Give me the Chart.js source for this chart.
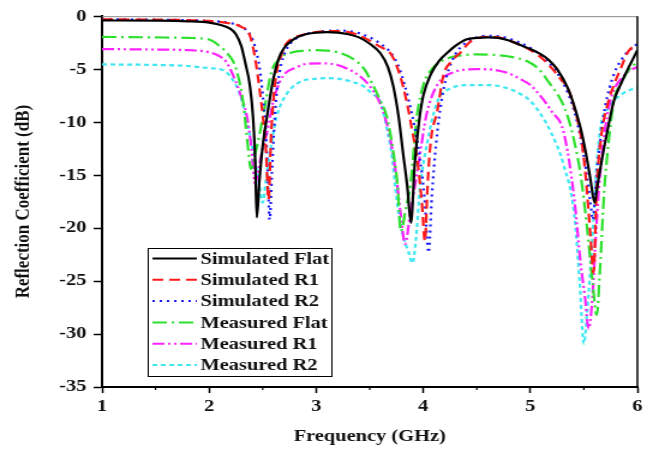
<!DOCTYPE html>
<html>
<head>
<meta charset="utf-8">
<script src="https://cdn.jsdelivr.net/npm/chart.js@4.4.1/dist/chart.umd.min.js"></script>
<style>
  html, body { margin: 0; padding: 0; background: #fff; }
  #wrap { width: 653px; height: 452px; }
</style>
</head>
<body>
<div id="wrap">
  <canvas id="reflChart" width="544" height="452" style="width:653px;height:452px"></canvas>
</div>
<script>
// Frequency (GHz) / S11 (dB) pairs for each antenna case
const fSimFlat = [1.0,1.5,1.8,2.0,2.1,2.2,2.25,2.3,2.34,2.38,2.41,2.43,2.445,2.47,2.5,2.54,2.6,2.65,2.7,2.8,2.9,3.0,3.1,3.2,3.3,3.4,3.5,3.6,3.67,3.72,3.77,3.81,3.85,3.885,3.92,3.96,4.0,4.07,4.15,4.23,4.3,4.4,4.5,4.6,4.7,4.8,4.9,5.0,5.1,5.17,5.25,5.35,5.42,5.47,5.52,5.56,5.6,5.63,5.66,5.72,5.78,5.85,5.91,5.96,6.0];
const sSimFlat = [-0.4,-0.42,-0.48,-0.6,-0.8,-1.2,-1.7,-2.8,-4.5,-6.5,-9.5,-13.5,-19.0,-15.5,-12.3,-9.5,-5.9,-4.0,-3.0,-2.1,-1.7,-1.55,-1.5,-1.55,-1.7,-2.0,-2.6,-3.5,-4.8,-6.6,-9.5,-12.8,-16,-19.5,-14,-10,-7.5,-5.5,-4.2,-3.4,-2.8,-2.2,-2.05,-2.0,-2.05,-2.3,-2.7,-3.1,-3.6,-4.1,-5.0,-6.8,-8.8,-10.6,-13,-15.3,-17.6,-15.8,-14,-10.8,-8.0,-6.3,-5.0,-4.0,-3.2];

const fSimR1 = [1.0,1.5,2.0,2.2,2.3,2.38,2.43,2.47,2.5,2.53,2.555,2.58,2.62,2.67,2.72,2.8,2.9,3.0,3.1,3.2,3.3,3.4,3.5,3.6,3.7,3.78,3.85,3.9,3.95,3.99,4.015,4.04,4.07,4.13,4.19,4.26,4.35,4.44,4.6,4.7,4.8,4.9,5.0,5.1,5.2,5.28,5.35,5.42,5.48,5.52,5.56,5.59,5.62,5.66,5.73,5.78,5.85,5.91,6.0];
const sSimR1 = [-0.3,-0.33,-0.45,-0.7,-1.0,-1.8,-4.0,-6.8,-9.3,-12.5,-17.3,-11,-6,-3.8,-2.6,-2.0,-1.7,-1.5,-1.42,-1.4,-1.5,-1.8,-2.3,-2.9,-3.6,-5.5,-8.3,-11,-14,-18,-21.2,-16,-11.8,-9,-5.5,-4.3,-3.4,-2.4,-1.95,-2.0,-2.3,-2.7,-3.2,-3.9,-4.9,-5.9,-6.8,-9,-11.8,-15.5,-20.5,-24.2,-16.2,-11.5,-8,-6.5,-4.8,-3.4,-2.6];

const fSimR2 = [1.0,1.5,2.0,2.2,2.3,2.38,2.44,2.48,2.51,2.535,2.55,2.565,2.59,2.62,2.66,2.72,2.8,2.9,3.0,3.1,3.2,3.3,3.4,3.5,3.6,3.7,3.78,3.86,3.92,3.97,4.01,4.05,4.08,4.12,4.17,4.22,4.3,4.4,4.5,4.6,4.7,4.8,4.9,5.0,5.1,5.2,5.3,5.4,5.47,5.52,5.56,5.585,5.61,5.65,5.7,5.78,5.88,6.0];
const sSimR2 = [-0.3,-0.33,-0.45,-0.65,-1.0,-1.7,-3.3,-5.5,-8.5,-12,-15.5,-19.2,-14,-8.5,-5.2,-3.2,-2.2,-1.7,-1.5,-1.4,-1.35,-1.4,-1.6,-2.0,-2.6,-3.5,-5.0,-7.8,-10.5,-13.5,-17,-22.3,-17,-12,-8,-5.6,-3.6,-2.5,-2.0,-1.85,-1.9,-2.1,-2.5,-3.0,-3.7,-4.7,-6.2,-8.6,-11.5,-14.5,-17.5,-19.2,-16,-12,-8.5,-5.5,-3.7,-2.6];

const fMeasFlat = [1.0,1.5,1.8,2.0,2.07,2.16,2.24,2.29,2.32,2.36,2.39,2.43,2.47,2.53,2.58,2.66,2.78,2.9,3.0,3.1,3.2,3.34,3.45,3.53,3.6,3.66,3.72,3.76,3.79,3.84,3.88,3.94,4.0,4.08,4.16,4.25,4.35,4.5,4.66,4.8,4.98,5.08,5.17,5.29,5.35,5.41,5.47,5.53,5.58,5.62,5.65,5.69,5.73,5.78,5.85,5.91,6.0];
const sMeasFlat = [-1.95,-2.0,-2.05,-2.2,-2.6,-3.4,-4.6,-6.5,-8.3,-12.1,-14.4,-13,-11.2,-8,-5.3,-4.0,-3.4,-3.25,-3.2,-3.25,-3.4,-4.0,-5.0,-6.5,-8,-9.5,-12.8,-16,-20.3,-18,-15.9,-9.5,-6.5,-5.0,-4.3,-3.9,-3.7,-3.6,-3.65,-3.8,-4.3,-5.0,-6.2,-8,-9.5,-11.8,-15,-20,-25,-28.2,-24,-16.5,-12,-8,-6.3,-5.2,-4.3];

const fMeasR1 = [1.0,1.5,1.8,2.0,2.1,2.16,2.25,2.3,2.35,2.39,2.43,2.46,2.5,2.54,2.6,2.66,2.72,2.8,2.91,3.05,3.2,3.3,3.4,3.5,3.6,3.68,3.74,3.79,3.83,3.88,3.95,4.03,4.13,4.28,4.5,4.65,4.8,4.9,5.0,5.1,5.2,5.31,5.41,5.47,5.51,5.545,5.58,5.61,5.65,5.7,5.76,5.84,5.92,6.0];
const sMeasR1 = [-3.1,-3.15,-3.2,-3.4,-3.8,-4.3,-6.2,-7.6,-9.3,-12,-15.8,-14.5,-12.5,-11,-8,-6.2,-5.3,-4.9,-4.5,-4.45,-4.6,-5.0,-5.6,-6.6,-8.3,-11,-14.5,-18.7,-21.5,-18.5,-14.3,-9.3,-6.5,-5.3,-5.0,-5.05,-5.4,-5.9,-6.5,-7.6,-9,-10.9,-17.2,-23.4,-26.5,-29.5,-26.5,-21,-15,-10.5,-7.5,-6,-5.2,-4.8];

const fMeasR2 = [1.0,1.5,1.8,2.0,2.13,2.25,2.31,2.38,2.44,2.47,2.5,2.53,2.56,2.6,2.63,2.72,2.85,3.0,3.1,3.2,3.3,3.44,3.52,3.6,3.66,3.71,3.74,3.77,3.82,3.86,3.9,3.93,3.97,4.04,4.13,4.26,4.44,4.6,4.75,4.9,5.0,5.1,5.19,5.31,5.41,5.46,5.5,5.53,5.56,5.59,5.62,5.66,5.72,5.78,5.88,6.0];
const sMeasR2 = [-4.55,-4.6,-4.7,-4.9,-5.1,-6.5,-8.1,-11.2,-14.3,-16,-17.6,-15.5,-13.5,-11,-9.5,-7.4,-6.2,-5.9,-5.85,-5.9,-6.1,-6.6,-7.3,-8.1,-10.6,-13.4,-16.2,-18.7,-21,-22.2,-23.3,-21.2,-16.2,-11.8,-8.1,-6.8,-6.5,-6.5,-6.7,-7.3,-8,-9.3,-10.9,-14,-18.7,-25,-30.9,-28,-24,-19.3,-14,-10.2,-8.8,-8,-7.2,-6.7];

const seriesNames = ['Simulated Flat', 'Simulated R1', 'Simulated R2', 'Measured Flat', 'Measured R1', 'Measured R2'];
const xTicks = [1, 2, 3, 4, 5, 6];
const yTicks = [0, -5, -10, -15, -20, -25, -30, -35];

const FONT = 'Liberation Serif, Times New Roman, serif';

function pairs(fs, vs) {
    return fs.map((f, i) => ({ x: f, y: vs[i] }));
}

function line(label, fs, vs, color, dash) {
    return {
        label: label,
        data: pairs(fs, vs),
        borderColor: color,
        backgroundColor: color,
        borderWidth: 2.2,
        borderDash: dash,
        pointRadius: 0,
        cubicInterpolationMode: 'monotone',
        fill: false
    };
}

// frame, minor x ticks and the boxed legend in the lower left of the plot
const framePlugin = {
    id: 'framePlugin',
    afterDraw(chart) {
        const ctx = chart.ctx;
        const a = chart.chartArea;
        const xs = chart.scales.x;
        ctx.save();
        ctx.setLineDash([]);
        ctx.strokeStyle = '#888';
        ctx.lineWidth = 1;
        ctx.beginPath();
        ctx.moveTo(a.left, a.top + 0.5);
        ctx.lineTo(a.right, a.top + 0.5);
        ctx.stroke();
        ctx.strokeStyle = '#000';
        ctx.lineWidth = 1.5;
        ctx.beginPath();
        ctx.moveTo(a.right, a.top);
        ctx.lineTo(a.right, a.bottom);
        ctx.stroke();

        // half-GHz minor ticks
        ctx.lineWidth = 1.2;
        for (let v = 1.5; v < 6; v += 1) {
            const px = xs.getPixelForValue(v);
            ctx.beginPath();
            ctx.moveTo(px, a.bottom);
            ctx.lineTo(px, a.bottom + 3);
            ctx.stroke();
        }

        // legend
        const bx = a.left + 38, bw = 153;
        const bh = 128, by = a.bottom - 11 - bh;
        ctx.fillStyle = '#fff';
        ctx.fillRect(bx, by, bw, bh);
        ctx.strokeStyle = '#000';
        ctx.lineWidth = 1;
        ctx.strokeRect(bx + 0.5, by + 0.5, bw, bh);
        ctx.font = 'bold 17px ' + FONT;
        ctx.textBaseline = 'middle';
        ctx.textAlign = 'left';
        chart.data.datasets.forEach((ds, i) => {
            const cy = by + 10.5 + i * 21.3;
            ctx.strokeStyle = ds.borderColor;
            ctx.lineWidth = 2;
            ctx.setLineDash(ds.borderDash || []);
            ctx.beginPath();
            ctx.moveTo(bx + 4, cy);
            ctx.lineTo(bx + 41, cy);
            ctx.stroke();
            ctx.setLineDash([]);
            ctx.fillStyle = '#111';
            ctx.fillText(ds.label, bx + 44, cy + 1);
        });
        ctx.restore();
    }
};

const ctx = document.getElementById('reflChart').getContext('2d');
const reflChart = new Chart(ctx, {
    type: 'line',
    data: {
        datasets: [
            line(seriesNames[0], fSimFlat, sSimFlat, '#000000', []),
            line(seriesNames[1], fSimR1, sSimR1, '#ff1a1a', [9, 5]),
            line(seriesNames[2], fSimR2, sSimR2, '#1a1aff', [2, 4]),
            line(seriesNames[3], fMeasFlat, sMeasFlat, '#2ee02e', [12, 4, 2, 4]),
            line(seriesNames[4], fMeasR1, sMeasR1, '#ff22ff', [10, 3, 2, 3, 2, 3]),
            line(seriesNames[5], fMeasR2, sMeasR2, '#3ee8f2', [4, 3])
        ]
    },
    options: {
        responsive: false,
        animation: false,
        devicePixelRatio: 1,
        layout: { padding: { left: 0, right: 13, top: 14, bottom: 0 } },
        plugins: {
            legend: { display: false },
            tooltip: { enabled: false }
        },
        scales: {
            x: {
                type: 'linear',
                min: 1,
                max: 6,
                afterBuildTicks: (s) => { s.ticks = xTicks.map(v => ({ value: v })); },
                afterFit: (s) => { s.height = 65; },
                grid: { drawOnChartArea: false, tickLength: 6, tickColor: '#000', tickWidth: 1.5 },
                border: { color: '#000', width: 2 },
                ticks: {
                    color: '#111',
                    padding: 3,
                    maxRotation: 0,
                    font: { family: FONT, size: 17, weight: 'bold' }
                },
                title: {
                    display: true,
                    text: 'Frequency (GHz)',
                    color: '#111',
                    padding: { top: 0, bottom: 5 },
                    font: { family: FONT, size: 17, weight: 'bold' }
                }
            },
            y: {
                min: -35,
                max: 0,
                afterBuildTicks: (s) => { s.ticks = yTicks.map(v => ({ value: v })); },
                afterFit: (s) => { s.width = 85; },
                grid: { drawOnChartArea: false, tickLength: 7, tickColor: '#000', tickWidth: 1.5 },
                border: { color: '#000', width: 2 },
                ticks: {
                    color: '#111',
                    padding: 6,
                    font: { family: FONT, size: 17, weight: 'bold' }
                },
                title: {
                    display: true,
                    text: 'Reflection Coefficient (dB)',
                    color: '#111',
                    padding: { top: 9, bottom: 0 },
                    font: { family: FONT, size: 17, weight: 'bold' }
                }
            }
        }
    },
    plugins: [framePlugin]
});
</script>
</body>
</html>
